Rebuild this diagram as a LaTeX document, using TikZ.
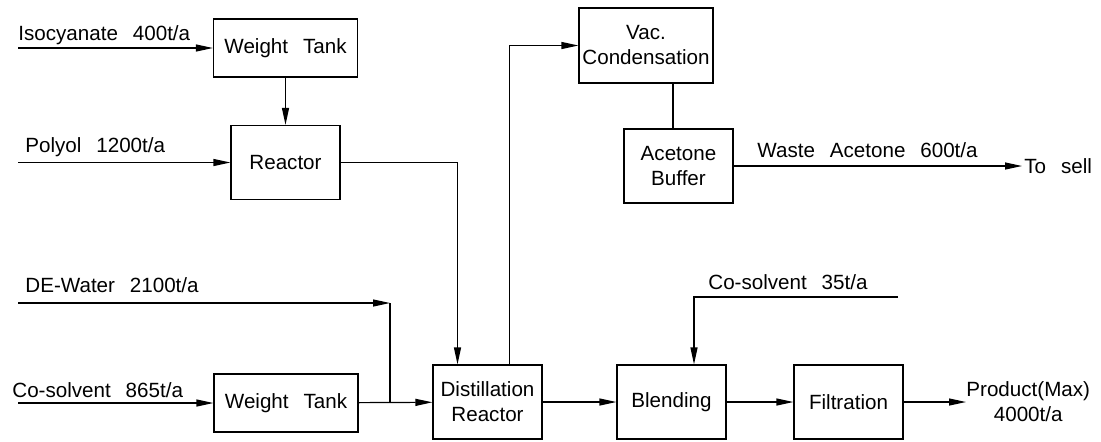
\documentclass[tikz,border=0pt]{standalone}
\usepackage{fontspec}
\setmainfont{Liberation Sans}[WordSpace=2.6]
\usepackage{tikz}
\usetikzlibrary{positioning, arrows.meta}

\begin{document}
\begin{tikzpicture}[x=0.5pt,y=-0.5pt,
    every node/.style={font=\fontsize{10.3}{12.5}\selectfont},
    box/.style={draw,line width=0.6pt,inner sep=0pt,align=center,minimum width=54.5pt,minimum height=37pt},
    tank/.style={box,minimum width=72pt,minimum height=29pt},
    flow/.style={line width=0.6pt,-{Triangle[length=8.5pt,width=3.5pt]}},
    pipe/.style={line width=0.6pt},
    lbl/.style={inner sep=0pt,anchor=base west}]
    \useasboundingbox (0,0) rectangle (1101,441);
    % units of the picture
    \node[tank] (wt1) at (285.5,48) {Weight Tank};
    \node[box] (reac) at (285.5,162.5) {Reactor};
    \node[box,minimum width=67pt,minimum height=37.5pt] (vac) at (646,45.5) {Vac.\\Condensation};
    \node[box] (buf) at (678.5,166) {Acetone\\Buffer};
    \node[tank] (wt2) at (286,403) {Weight Tank};
    \node[box] (dist) at (487.5,402) {Distillation\\Reactor};
    \node[box] (blend) at (671.5,402) {Blending};
    \node[box] (filt) at (848.5,402) {Filtration};

    % feeds and products
    \coordinate (iso) at (18,48);
    \coordinate (pol) at (18,162.5);
    \coordinate (dew) at (18,303);
    \coordinate (jn) at (390,303);
    \coordinate (cs865) at (18,403);
    \coordinate (cs35) at (898,297);
    \node[lbl] (isolbl) at (18,40) {Isocyanate 400t/a};
    \node[lbl] (pollbl) at (25,152) {Polyol 1200t/a};
    \node[lbl] (dewlbl) at (25,292) {DE-Water 2100t/a};
    \node[lbl] (cs865lbl) at (12,397) {Co-solvent 865t/a};
    \node[lbl] (cs35lbl) at (708,289) {Co-solvent 35t/a};
    \node[lbl] (wastelbl) at (757,157) {Waste Acetone 600t/a};
    \node[inner sep=1pt,anchor=west] (sell) at (1022,166) {To sell};
    \node[inner sep=0pt,anchor=west,align=center] (prod) at (966,402) {Product(Max)\\ 4000t/a};

    \draw[flow] (iso) -- (wt1);
    \draw[flow] (wt1) -- (reac);
    \draw[flow] (pol) -- (reac);
    \draw[flow] (reac.east) -| ([xshift=-15pt]dist.north);
    \draw[flow] ([xshift=11pt]dist.north) |- (vac.west);
    \draw[pipe] ([xshift=-2.75pt]buf.north |- vac.south) -- ([xshift=-2.75pt]buf.north);
    \draw[flow] (buf.east) -- (sell);
    \draw[flow] (dew) -- (jn);
    \draw[pipe] (jn) -- (jn |- dist.west);
    \draw[flow] (cs865) -- (wt2);
    \draw[flow] (wt2) -- (dist);
    \draw[flow] (dist) -- (blend);
    \draw[flow] (cs35) -| ([xshift=11.25pt]blend.north);
    \draw[flow] (blend) -- (filt);
    \draw[flow] (filt) -- (prod);
\end{tikzpicture}
\end{document}
